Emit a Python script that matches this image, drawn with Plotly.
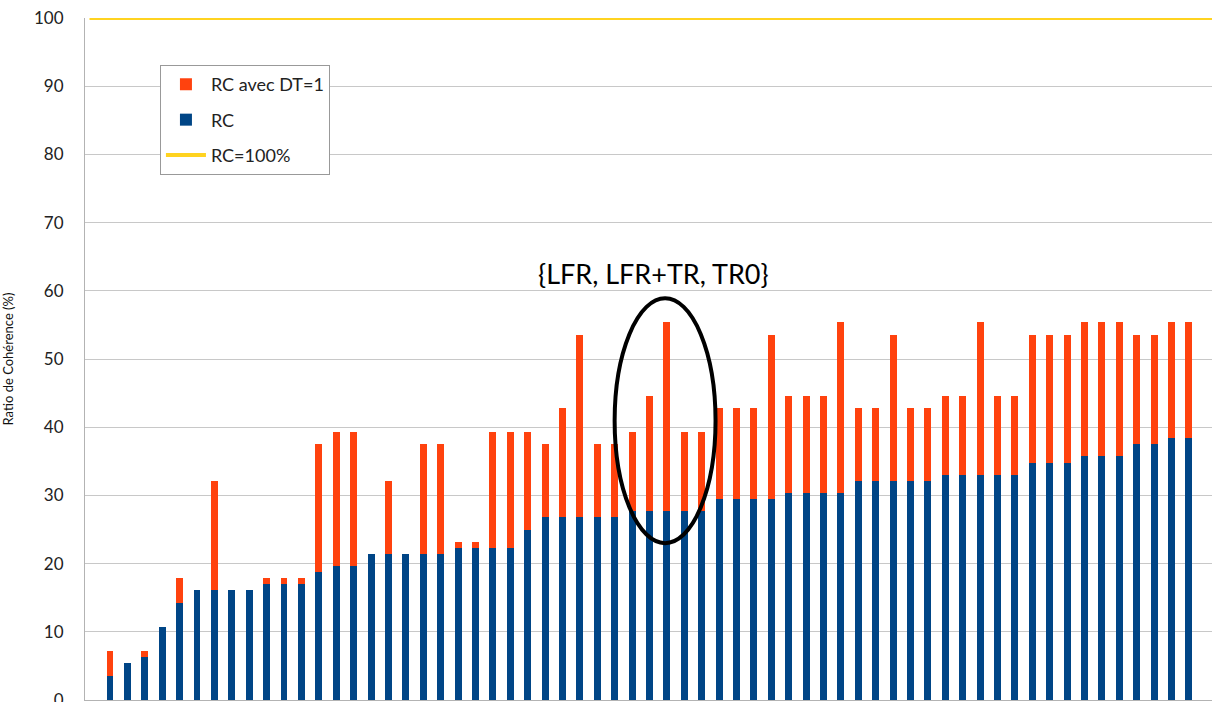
import plotly.graph_objects as go

# ---- data ----
categories = list(range(1, 64))
rc = [3.57, 5.36, 6.25, 10.71, 14.29, 16.07, 16.07, 16.07, 16.07, 16.96,
      16.96, 16.96, 18.75, 19.64, 19.64, 21.43, 21.43, 21.43, 21.43, 21.43,
      22.32, 22.32, 22.32, 22.32, 25.0, 26.79, 26.79, 26.79, 26.79, 26.79,
      27.68, 27.68, 27.68, 27.68, 27.68, 29.46, 29.46, 29.46, 29.46, 30.36,
      30.36, 30.36, 30.36, 32.14, 32.14, 32.14, 32.14, 32.14, 33.04, 33.04,
      33.04, 33.04, 33.04, 34.82, 34.82, 34.82, 35.71, 35.71, 35.71, 37.5,
      37.5, 38.39, 38.39]
rc_dt1 = [7.14, 5.36, 7.14, 10.71, 17.86, 16.07, 32.14, 16.07, 16.07, 17.86,
          17.86, 17.86, 37.5, 39.29, 39.29, 21.43, 32.14, 21.43, 37.5, 37.5,
          23.21, 23.21, 39.29, 39.29, 39.29, 37.5, 42.86, 53.57, 37.5, 37.5,
          39.29, 44.64, 55.36, 39.29, 39.29, 42.86, 42.86, 42.86, 53.57, 44.64,
          44.64, 44.64, 55.36, 42.86, 42.86, 53.57, 42.86, 42.86, 44.64, 44.64,
          55.36, 44.64, 44.64, 53.57, 53.57, 53.57, 55.36, 55.36, 55.36, 53.57,
          53.57, 55.36, 55.36]
rc_target = 100
y_ticks = [0, 10, 20, 30, 40, 50, 60, 70, 80, 90, 100]
highlight_label = "{LFR, LFR+TR, TR0}"
highlight_range = (30.0, 35.8)   # categories circled
highlight_span = (23.0, 58.9)     # RC values circled

ORANGE = "#ff420e"
BLUE = "#004586"
YELLOW = "#ffd320"
FONT = "Lato"

fig = go.Figure()
fig.add_trace(go.Bar(x=categories, y=rc_dt1, name="RC avec DT=1",
                     marker=dict(color=ORANGE, line=dict(width=0)),
                     width=0.4, legendgroup="a"))
fig.add_trace(go.Bar(x=categories, y=rc, name="RC",
                     marker=dict(color=BLUE, line=dict(width=0)),
                     width=0.4, legendgroup="b"))
fig.add_trace(go.Scatter(x=[0, 1], y=[rc_target, rc_target], name="RC=100%",
                         mode="lines", line=dict(color=YELLOW, width=4),
                         xaxis="x2", legendgroup="c", cliponaxis=False))

fig.add_shape(type="circle", xref="x", yref="y",
              x0=highlight_range[0], x1=highlight_range[1],
              y0=highlight_span[0], y1=highlight_span[1],
              line=dict(color="black", width=4))
fig.add_annotation(x=(highlight_range[0] + highlight_range[1]) / 2 - 0.64,
                   y=62.6, xref="x", yref="y", text=highlight_label,
                   showarrow=False, font=dict(family=FONT, size=27, color="black"))

fig.update_layout(
    width=1212, height=702,
    margin=dict(l=85, r=0, t=18, b=2, autoexpand=False),
    barmode="overlay", bargap=0,
    plot_bgcolor="white", paper_bgcolor="white",
    font=dict(family=FONT, size=17, color="#222222"),
    showlegend=True,
    legend=dict(x=0.0665, y=0.931, xanchor="left", yanchor="top",
                bgcolor="white", bordercolor="#999999", borderwidth=1,
                font=dict(family=FONT, size=18, color="#222222"),
                itemwidth=40,
                tracegroupgap=9, traceorder="grouped"),
    xaxis=dict(range=[-0.437, 64.33], showticklabels=False, showgrid=False,
               zeroline=False, showline=True, linecolor="#b3b3b3", linewidth=1,
               ticks="", automargin=False),
    xaxis2=dict(range=[-0.004, 1], overlaying="x", visible=False),
    yaxis=dict(range=[0, 100], tickvals=y_ticks, showgrid=True,
               gridcolor="#c8c8c8", gridwidth=1, zeroline=False,
               showline=True, linecolor="#b3b3b3", linewidth=1,
               ticks="", ticklabelstandoff=17, automargin=False,
               ticklabeloverflow="allow",
               tickfont=dict(family=FONT, size=17, color="#222222"),
               title=dict(text="Ratio de Cohérence (%)", standoff=22,
                          font=dict(family=FONT, size=13, color="#111111"))),
)

fig.write_html("out.html", config={"displayModeBar": False},
               post_script="document.body.style.margin='0';document.body.style.overflow='hidden';")
